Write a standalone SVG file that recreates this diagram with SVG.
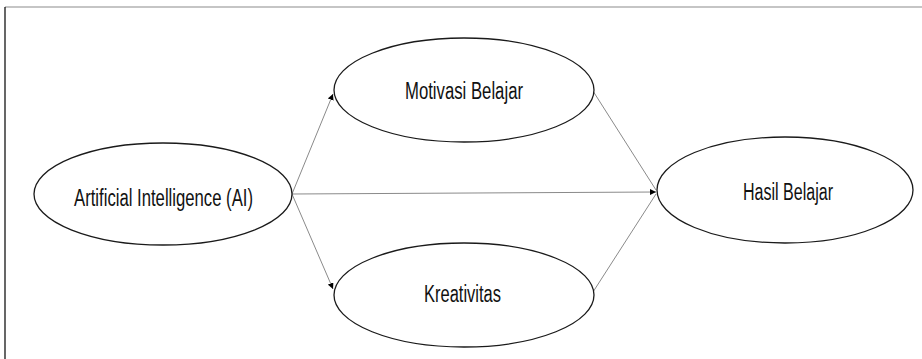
<svg xmlns="http://www.w3.org/2000/svg" width="922" height="359" viewBox="0 0 922 359">
<style>
.node ellipse{fill:#fff;stroke:#1a1a1a;stroke-width:1.3}
.node text{font-family:"Liberation Sans Narrow","Liberation Sans",Arial,sans-serif;font-size:23px;fill:#111}
.conn line{stroke:#8a8a8a;stroke-width:1}
</style>
<defs>
<marker id="arr" viewBox="0 0 10 10" refX="10" refY="5" markerWidth="6" markerHeight="6" markerUnits="userSpaceOnUse" orient="auto">
<path d="M0,0 L10,5 L0,10 z" fill="#000"/>
</marker>
</defs>
<rect width="922" height="359" fill="#fff"/>
<line x1="5" y1="7" x2="922" y2="7" stroke="#8c8c8c" stroke-width="1.2"/>
<line x1="5" y1="7" x2="5" y2="359" stroke="#000" stroke-width="1.2"/>
<g class="conn">
<line x1="292" y1="194" x2="333" y2="94" marker-end="url(#arr)"/>
<line x1="292" y1="194" x2="333" y2="289" marker-end="url(#arr)"/>
<line x1="292" y1="194" x2="656" y2="192" marker-end="url(#arr)"/>
<line x1="593" y1="91" x2="656" y2="190"/>
<line x1="593" y1="292" x2="656" y2="194"/>
</g>
<g id="ai" class="node">
<ellipse cx="163" cy="194" rx="129" ry="51"/>
<text x="74" y="206" textLength="179" lengthAdjust="spacingAndGlyphs">Artificial Intelligence (AI)</text>
</g>
<g id="motivasi" class="node">
<ellipse cx="464" cy="90" rx="130" ry="52"/>
<text x="405" y="99" textLength="118" lengthAdjust="spacingAndGlyphs">Motivasi Belajar</text>
</g>
<g id="kreativitas" class="node">
<ellipse cx="464" cy="295" rx="130" ry="52"/>
<text x="424" y="302" textLength="77" lengthAdjust="spacingAndGlyphs">Kreativitas</text>
</g>
<g id="hasil" class="node">
<ellipse cx="785" cy="190" rx="128" ry="53"/>
<text x="743" y="200" textLength="90" lengthAdjust="spacingAndGlyphs">Hasil Belajar</text>
</g>
</svg>
